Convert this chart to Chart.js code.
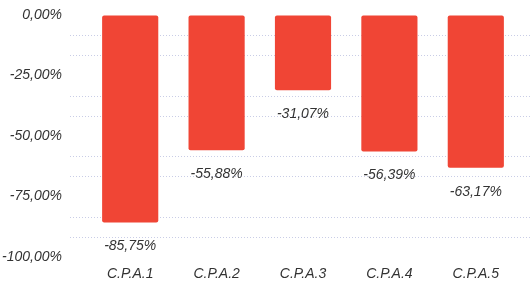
<!DOCTYPE html>
<html>
<head>
<meta charset="utf-8">
<script src="https://cdn.jsdelivr.net/npm/chart.js@4/dist/chart.umd.min.js"></script>
<style>
  html, body { margin: 0; padding: 0; background: #ffffff; overflow: hidden; }
  canvas { display: block; }
</style>
</head>
<body>
<canvas id="c" width="531" height="284"></canvas>
<script>
const categories = ["C.P.A.1", "C.P.A.2", "C.P.A.3", "C.P.A.4", "C.P.A.5"];
const values = [-85.75, -55.88, -31.07, -56.39, -63.17];
const yTickValues = [0, -25, -50, -75, -100];

const fmt = v => v.toFixed(2).replace('.', ',') + '%';
const FONT = { family: 'Liberation Sans, Arial, sans-serif', size: 14, style: 'italic' };

const gridPlugin = {
  id: 'minorGrid',
  beforeDatasetsDraw(chart) {
    const y = chart.scales.y;
    const ctx = chart.ctx;
    ctx.save();
    ctx.strokeStyle = '#c9cde6';
    ctx.lineWidth = 1;
    ctx.setLineDash([1, 2]);
    for (let i = 0; i < yTickValues.length - 1; i++) {
      const a = yTickValues[i], b = yTickValues[i + 1];
      [1 / 3, 2 / 3].forEach(f => {
        const py = Math.round(y.getPixelForValue(a + (b - a) * f)) + 0.5;
        ctx.beginPath();
        ctx.moveTo(70, py);
        ctx.lineTo(chart.width, py);
        ctx.stroke();
      });
    }
    ctx.restore();
  }
};

const labelPlugin = {
  id: 'barLabels',
  afterDatasetsDraw(chart) {
    const ctx = chart.ctx;
    const meta = chart.getDatasetMeta(0);
    ctx.save();
    ctx.font = 'italic 14px "Liberation Sans", Arial, sans-serif';
    ctx.fillStyle = '#333333';
    ctx.textAlign = 'center';
    ctx.textBaseline = 'middle';
    meta.data.forEach((bar, i) => {
      ctx.fillText(fmt(values[i]), bar.x, bar.y + 24);
    });
    ctx.restore();
  }
};

new Chart(document.getElementById('c'), {
  type: 'bar',
  data: {
    labels: categories,
    datasets: [{
      data: values,
      backgroundColor: '#f04535',
      borderWidth: 0,
      borderRadius: 2,
      borderSkipped: false,
      barPercentage: 0.65,
      categoryPercentage: 1.0
    }]
  },
  options: {
    responsive: false,
    animation: false,
    layout: { padding: { top: 15, right: 12, bottom: 0, left: 0 } },
    plugins: { legend: { display: false }, tooltip: { enabled: false } },
    scales: {
      x: {
        grid: { display: false, drawTicks: false },
        border: { display: false },
        ticks: { color: '#333333', font: FONT, padding: 9 },
        afterFit(s) { s.height = 27; }
      },
      y: {
        min: -100,
        max: 0,
        grid: {
          display: true,
          drawOnChartArea: false,
          drawTicks: true,
          tickLength: 25,
          color: 'rgba(0,0,0,0)',
          tickColor: 'rgba(0,0,0,0)'
        },
        border: { display: false },
        ticks: {
          stepSize: 25,
          color: '#333333',
          font: FONT,
          padding: 0,
          callback: v => fmt(v)
        },
        afterFit(s) { s.width = 87; }
      }
    }
  },
  plugins: [gridPlugin, labelPlugin]
});
</script>
</body>
</html>
